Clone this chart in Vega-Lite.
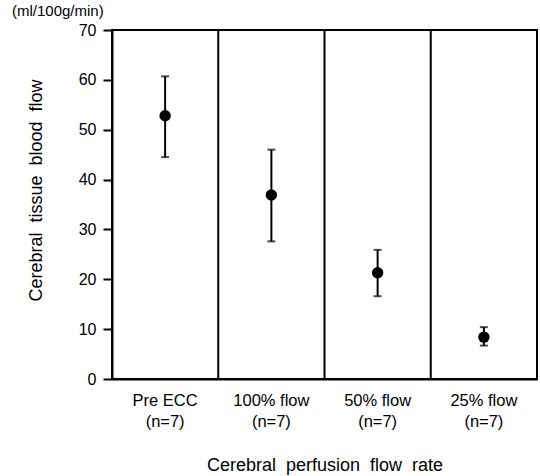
{
  "$schema": "https://vega.github.io/schema/vega-lite/v6.json",
  "width": 425,
  "height": 349,
  "autosize": "none",
  "padding": {"left": 112, "top": 30, "right": 3, "bottom": 97},
  "background": "white",
  "title": {
    "text": "(ml/100g/min)",
    "anchor": "start",
    "frame": "group",
    "dx": -100,
    "offset": 3,
    "fontSize": 15,
    "fontWeight": "normal",
    "font": "Liberation Sans",
    "color": "black"
  },
  "config": {
    "view": {"stroke": "black", "strokeWidth": 2},
    "font": "Liberation Sans"
  },
  "data": {
    "values": [
      {"group": "Pre ECC (n=7)", "mean": 52.8, "lo": 44.5, "hi": 60.7},
      {"group": "100% flow (n=7)", "mean": 36.9, "lo": 27.6, "hi": 46.0},
      {"group": "50% flow (n=7)", "mean": 21.3, "lo": 16.6, "hi": 25.9},
      {"group": "25% flow (n=7)", "mean": 8.4, "lo": 6.7, "hi": 10.4}
    ]
  },
  "encoding": {
    "x": {
      "field": "group",
      "type": "nominal",
      "sort": ["Pre ECC (n=7)", "100% flow (n=7)", "50% flow (n=7)", "25% flow (n=7)"],
      "scale": {"paddingInner": 0, "paddingOuter": 0},
      "axis": {
        "title": "Cerebral\u00a0 perfusion\u00a0 flow\u00a0 rate",
        "titleFontSize": 18,
        "titleFontWeight": "normal",
        "titlePadding": 27,
        "titleColor": "black",
        "labelAngle": 0,
        "labelFontSize": 16.5,
        "labelColor": "black",
        "labelPadding": 13,
        "labelLineHeight": 21,
        "labelExpr": "[slice(datum.label, 0, indexof(datum.label, ' (')), slice(datum.label, indexof(datum.label, ' (') + 1)]",
        "ticks": false,
        "domainColor": "black",
        "domainWidth": 2
      }
    }
  },
  "layer": [
    {
      "transform": [{"filter": "datum.group != 'Pre ECC (n=7)'"}],
      "mark": {"type": "rule", "color": "black", "strokeWidth": 2},
      "encoding": {"x": {"field": "group", "type": "nominal", "sort": ["Pre ECC (n=7)", "100% flow (n=7)", "50% flow (n=7)", "25% flow (n=7)"], "bandPosition": 0}}
    },
    {
      "mark": {"type": "rule", "color": "black", "strokeWidth": 2},
      "encoding": {
        "y": {
          "field": "lo",
          "type": "quantitative",
          "scale": {"domain": [0, 70], "nice": false},
          "axis": {
            "title": "Cerebral\u00a0 tissue\u00a0 blood\u00a0 flow",
            "titleFontSize": 18,
            "titleFontWeight": "normal",
            "titleColor": "black",
            "titleX": -67,
            "titleY": 160,
            "values": [0, 10, 20, 30, 40, 50, 60, 70],
            "grid": false,
            "labelFontSize": 16,
            "labelColor": "black",
            "labelPadding": 7,
            "tickSize": 9,
            "tickColor": "black",
            "tickWidth": 2,
            "domainColor": "black",
            "domainWidth": 2
          }
        },
        "y2": {"field": "hi"}
      }
    },
    {
      "mark": {"type": "tick", "color": "black", "size": 8, "thickness": 2},
      "encoding": {"y": {"field": "lo", "type": "quantitative"}}
    },
    {
      "mark": {"type": "tick", "color": "black", "size": 8, "thickness": 2},
      "encoding": {"y": {"field": "hi", "type": "quantitative"}}
    },
    {
      "mark": {"type": "point", "shape": "circle", "filled": true, "color": "black", "size": 130, "opacity": 1},
      "encoding": {"y": {"field": "mean", "type": "quantitative"}}
    }
  ]
}
